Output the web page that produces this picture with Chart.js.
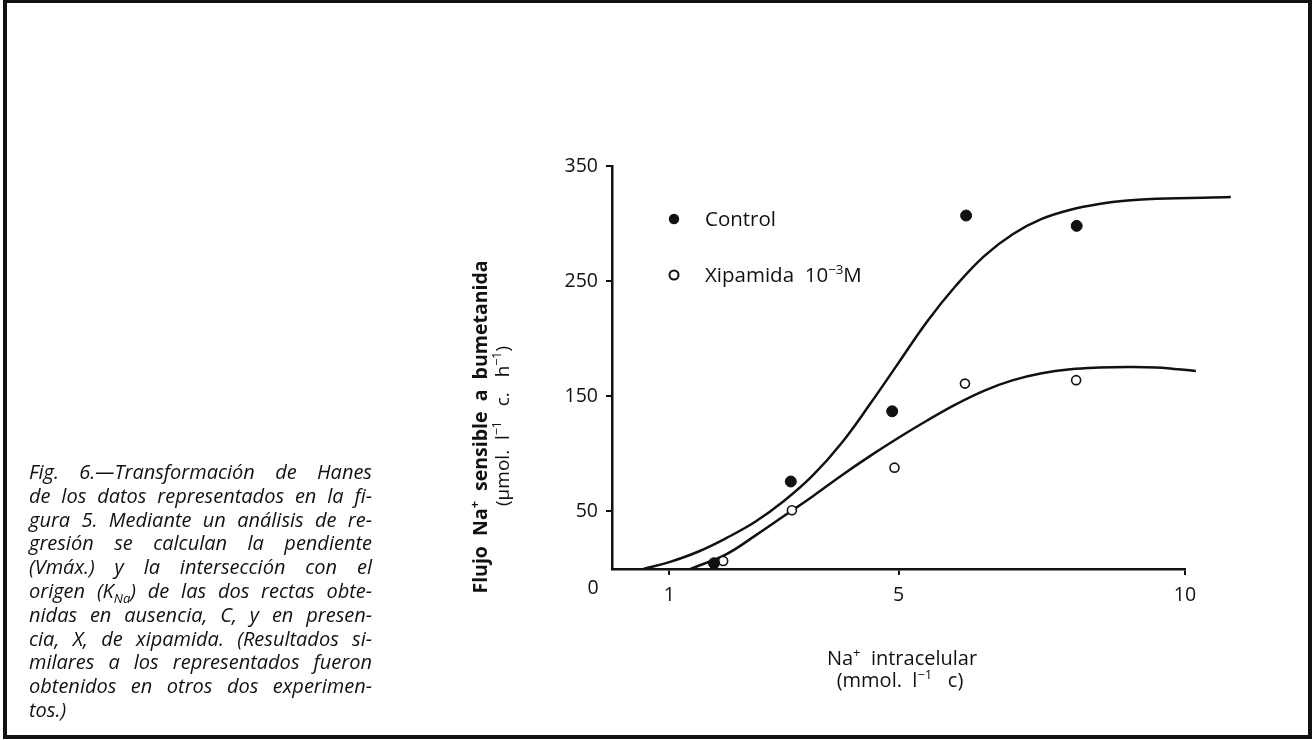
<!DOCTYPE html>
<html>
<head>
<meta charset="utf-8">
<script src="https://cdn.jsdelivr.net/npm/chart.js@4"></script>
<style>
  body { margin: 0; background: #fff; }
  #wrap { position: relative; width: 1313px; height: 740px; overflow: hidden; background: #fff; }
  #frame { position: absolute; left: 3px; top: 0; width: 1309px; height: 739px; box-sizing: border-box; border: 4px solid #111; border-top-width: 3px; }
  #chart { position: absolute; left: 0; top: 0; }
  #caption { position: absolute; left: 29px; top: 460px; width: 343px; font: italic 20px "Open Sans"; line-height: 23.8px; color: #111; }
  #caption div { text-align: justify; text-align-last: justify; }
  #caption div.last { text-align-last: left; }
  #caption sub { font-size: 13px; line-height: 0; }
</style>
</head>
<body>
<div id="wrap">
  <div id="frame"></div>
  <canvas id="chart" width="1313" height="740"></canvas>
  <div id="caption">
    <div>Fig. 6.—Transformación de Hanes</div>
    <div>de los datos representados en la fi-</div>
    <div>gura 5. Mediante un análisis de re-</div>
    <div>gresión se calculan la pendiente</div>
    <div>(Vmáx.) y la intersección con el</div>
    <div>origen (K<sub>Na</sub>) de las dos rectas obte-</div>
    <div>nidas en ausencia, C, y en presen-</div>
    <div>cia, X, de xipamida. (Resultados si-</div>
    <div>milares a los representados fueron</div>
    <div>obtenidos en otros dos experimen-</div>
    <div class="last">tos.)</div>
  </div>
</div>
<script>
// measured points
const controlX = [1.78, 3.12, 4.89, 6.18, 8.11];
const controlY = [5, 76, 137, 307, 298];
const xipX = [1.94, 3.14, 4.93, 6.16, 8.10];
const xipY = [7, 51, 88, 161, 164];

// fitted curves, every half unit
// (only one point past x = 10 gets drawn, so each curve ends with a single one)
const controlFitX = [0.55, 1.0, 1.5, 2.0, 2.5, 3.0, 3.5, 4.0, 4.5, 5.0, 5.5, 6.0, 6.5, 7.0, 7.5, 8.0, 8.5, 9.0, 9.5, 10.8];
const controlFitY = [0, 6, 15, 27, 41, 59, 81, 109, 143, 179, 215, 246, 272, 291, 304, 312, 317, 320, 321.5, 323];
const xipFitX = [1.37, 2.0, 2.5, 3.0, 3.5, 4.0, 4.5, 5.0, 5.5, 6.0, 6.5, 7.0, 7.5, 8.0, 8.5, 9.0, 9.5, 10.19];
const xipFitY = [0, 13, 29, 46, 63, 81, 98, 114, 129, 143, 155, 164, 170, 173.5, 175, 175.5, 175, 172];

const xTickValues = [1, 5, 10];
const yTickValues = [50, 150, 250, 350];

const xTitle = ["Na⁺  intracelular", "(mmol.  l⁻¹   c)"];
const yTitle = ["Flujo  Na⁺  sensible  a  bumetanida", "(µmol.  l⁻¹   c.   h⁻¹)"];

const pts = (xs, ys) => xs.map((x, i) => ({ x, y: ys[i] }));

Chart.defaults.font.family = '"Open Sans"';
Chart.defaults.color = "#111";

// shrink caption font until every line fits on its own
const cap = document.getElementById("caption");
const lines = [...cap.children];
let capSize = 20;
lines.forEach(d => { d.style.whiteSpace = "nowrap"; });
while (capSize > 14 && lines.some(d => d.scrollWidth > d.clientWidth)) {
  capSize -= 0.25;
  cap.style.fontSize = capSize + "px";
}
lines.forEach(d => { d.style.whiteSpace = ""; });

/* text with unicode superscripts drawn as raised small glyphs */
const SUP = { "⁺": "+", "⁻": "−", "¹": "1", "³": "3" };
function drawRich(ctx, str, x, y, size, weight, align) {
  const segs = [];
  for (const ch of str) {
    const sup = ch in SUP;
    const c = sup ? SUP[ch] : ch;
    const last = segs[segs.length - 1];
    if (last && last.sup === sup) last.t += c; else segs.push({ t: c, sup });
  }
  const font = s => `${weight} ${s}px "Open Sans"`;
  let w = 0;
  segs.forEach(s => { ctx.font = font(s.sup ? size * 0.65 : size); s.w = ctx.measureText(s.t).width; w += s.w; });
  let cx = align === "center" ? x - w / 2 : x;
  ctx.textAlign = "left";
  ctx.textBaseline = "alphabetic";
  const base = y + size * 0.36;
  segs.forEach(s => {
    ctx.font = font(s.sup ? size * 0.65 : size);
    ctx.fillText(s.t, cx, s.sup ? base - size * 0.42 : base);
    cx += s.w;
  });
}

const figureText = {
  id: "figureText",
  afterDraw(chart) {
    const ctx = chart.ctx;
    const a = chart.chartArea;
    ctx.save();
    ctx.fillStyle = "#111";

    // corner zero
    drawRich(ctx, "0", a.left - 19, a.bottom + 18, 19.5, "normal", "center");

    // x title
    drawRich(ctx, xTitle[0], a.left + 290, a.bottom + 89, 20, "normal", "center");
    drawRich(ctx, xTitle[1], a.left + 288, a.bottom + 111, 20, "normal", "center");

    // y title
    ctx.save();
    ctx.translate(a.left - 132, a.bottom - 142);
    ctx.rotate(-Math.PI / 2);
    drawRich(ctx, yTitle[0], 0, 0, 19.5, "bold", "center");
    ctx.restore();
    ctx.save();
    ctx.translate(a.left - 110, a.bottom - 143);
    ctx.rotate(-Math.PI / 2);
    drawRich(ctx, yTitle[1], 0, 0, 19, "normal", "center");
    ctx.restore();

    // legend inside plot
    chart.data.datasets.filter(d => d.inLegend).forEach((ds, i) => {
      const x = a.left + 62, y = a.top + 53 + i * 56;
      ctx.fillStyle = ds.pointBackgroundColor;
      ctx.strokeStyle = ds.pointBorderColor;
      ctx.lineWidth = ds.pointBorderWidth + 0.4;
      Chart.helpers.drawPoint(ctx, { pointStyle: "circle", radius: 4.5, borderWidth: ds.pointBorderWidth }, x, y);
      ctx.fillStyle = "#111";
      drawRich(ctx, ds.label, a.left + 93, y, 20.5, "normal", "left");
    });
    ctx.restore();
  }
};

new Chart(document.getElementById("chart"), {
  type: "scatter",
  data: {
    datasets: [
      {
        label: "Control",
        inLegend: true,
        data: pts(controlX, controlY),
        pointRadius: 5.5,
        pointBackgroundColor: "#111",
        pointBorderColor: "#111",
        pointBorderWidth: 1
      },
      {
        label: "Xipamida  10⁻³M",
        inLegend: true,
        data: pts(xipX, xipY),
        pointRadius: 4.5,
        pointBackgroundColor: "#fff",
        pointBorderColor: "#111",
        pointBorderWidth: 1.6
      },
      {
        label: "Control (ajuste)",
        data: pts(controlFitX, controlFitY),
        showLine: true,
        pointRadius: 0,
        borderColor: "#111",
        borderWidth: 2.5,
        tension: 0.4,
        clip: false
      },
      {
        label: "Xipamida (ajuste)",
        data: pts(xipFitX, xipFitY),
        showLine: true,
        pointRadius: 0,
        borderColor: "#111",
        borderWidth: 2.5,
        tension: 0.4,
        clip: false
      }
    ]
  },
  options: {
    responsive: false,
    animation: false,
    layout: { padding: { left: 552, top: 166, right: 128, bottom: 131 } },
    plugins: { legend: { display: false }, tooltip: { enabled: false } },
    scales: {
      x: {
        type: "linear",
        min: 0,
        max: 10,
        afterBuildTicks: s => { s.ticks = xTickValues.map(v => ({ value: v })); },
        afterFit: s => { s.height = 40; },
        border: { display: true, color: "#111", width: 2.5 },
        grid: { drawOnChartArea: false, tickLength: 6, color: "#111", lineWidth: 2 },
        ticks: { font: { size: 19.5 }, padding: 9, maxRotation: 0 }
      },
      y: {
        min: 0,
        max: 350,
        afterBuildTicks: s => { s.ticks = yTickValues.map(v => ({ value: v })); },
        afterFit: s => { s.width = 60; },
        border: { display: true, color: "#111", width: 2.5 },
        grid: { drawOnChartArea: false, tickLength: 6, color: "#111", lineWidth: 2 },
        ticks: { font: { size: 19.5 }, padding: 8 }
      }
    }
  },
  plugins: [figureText]
});
</script>
</body>
</html>
